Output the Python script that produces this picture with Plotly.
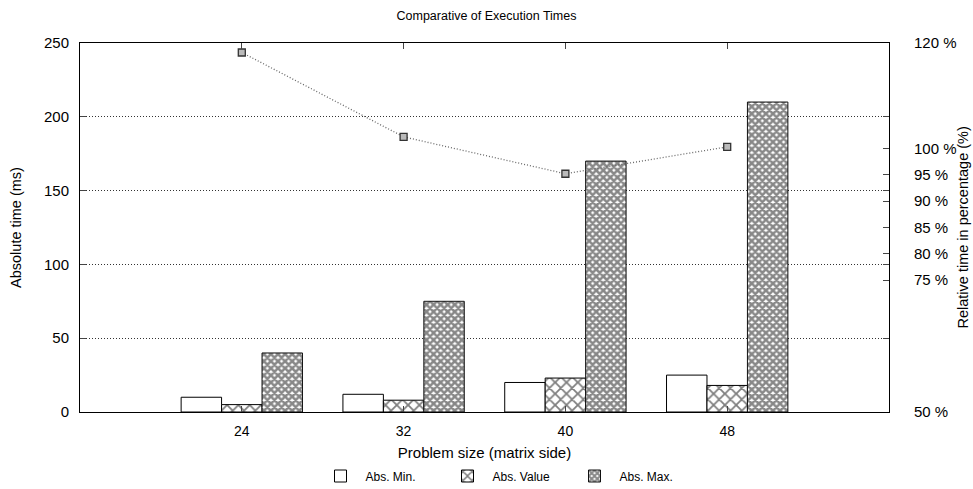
import plotly.graph_objects as go

sizes = [24, 32, 40, 48]
abs_min = [10, 12, 20, 25]
abs_value = [5, 8, 23, 18]
abs_max = [40, 75, 170, 210]
relative = [118.2, 102.2, 95.2, 100.3]

y_ticks = [0, 50, 100, 150, 200, 250]
y2_ticks = [50, 75, 80, 85, 90, 95, 100, 120]
y2_labels = [f"{v} %" for v in y2_ticks]

FONT = "Liberation Sans, Arial, sans-serif"
DOT = "1px,2px"

fig = go.Figure()
fig.add_trace(go.Bar(
    x=sizes, y=abs_min, name="Abs. Min.",
    marker=dict(color="white", line=dict(color="black", width=1)),
))
fig.add_trace(go.Bar(
    x=sizes, y=abs_value, name="Abs. Value",
    marker=dict(color="white", line=dict(color="black", width=1),
                pattern=dict(shape="x", size=8, solidity=0.4,
                             fgcolor="black", bgcolor="white")),
))
fig.add_trace(go.Bar(
    x=sizes, y=abs_max, name="Abs. Max.",
    marker=dict(color="white", line=dict(color="#111", width=1),
                pattern=dict(shape="x", size=5, solidity=0.75,
                             fgcolor="#111", bgcolor="white")),
))
fig.add_trace(go.Scatter(
    x=sizes, y=relative, yaxis="y2", mode="lines+markers", showlegend=False,
    line=dict(color="#666", width=1.3, dash=DOT),
    marker=dict(symbol="square", size=7, color="#bbb",
                line=dict(color="#333", width=1.3)),
))

fig.update_layout(
    width=973, height=489,
    margin=dict(l=80, r=84, t=43, b=77),
    paper_bgcolor="white", plot_bgcolor="white",
    font=dict(family=FONT, size=15, color="black"),
    barmode="group", bargap=0.25, bargroupgap=0,
    title=dict(text="Comparative of Execution Times", x=0.5, xanchor="center",
               y=1 - 16 / 489, yanchor="middle", font=dict(size=12.5)),
    xaxis=dict(range=[16, 56], tickvals=sizes, ticks="inside", ticklen=6,
               showline=True, linecolor="black", linewidth=1, mirror="ticks",
               showgrid=False, zeroline=False, automargin=False,
               tickfont=dict(size=14), ticklabelstandoff=6,
               title=dict(text="Problem size (matrix side)", font=dict(size=15), standoff=10)),
    yaxis=dict(range=[0, 250], tickvals=y_ticks, ticks="inside",
               ticklen=6, showline=True, linecolor="black", linewidth=1, mirror="ticks",
               showgrid=True, gridcolor="#333", griddash=DOT, gridwidth=1,
               zeroline=False, automargin=False, tickfont=dict(size=15),
               ticklabelstandoff=7,
               title=dict(text="Absolute time (ms)", font=dict(size=14.5), standoff=18)),
    yaxis2=dict(range=[50, 120], overlaying="y", side="right", tickvals=y2_ticks,
                ticktext=y2_labels, ticks="inside", ticklen=6, showgrid=False,
                zeroline=False, showline=False, automargin=False,
                tickfont=dict(size=15), ticklabelstandoff=24),
    legend=dict(orientation="h", xref="container", yref="container",
                x=506 / 973, xanchor="center", y=1 - 476 / 489, yanchor="middle",
                font=dict(size=12), itemwidth=40, entrywidth=72, tracegroupgap=0),
    annotations=[dict(
        text="Relative time in percentage (%)", textangle=-90,
        xref="paper", yref="paper", x=(962 - 80) / 809, y=0.5,
        xanchor="center", yanchor="middle", showarrow=False,
        font=dict(size=14.5),
    )],
)

fig.write_html(
    "out.html",
    config={"displayModeBar": False},
    post_script="document.body.style.margin='0';document.body.style.padding='0';",
)
